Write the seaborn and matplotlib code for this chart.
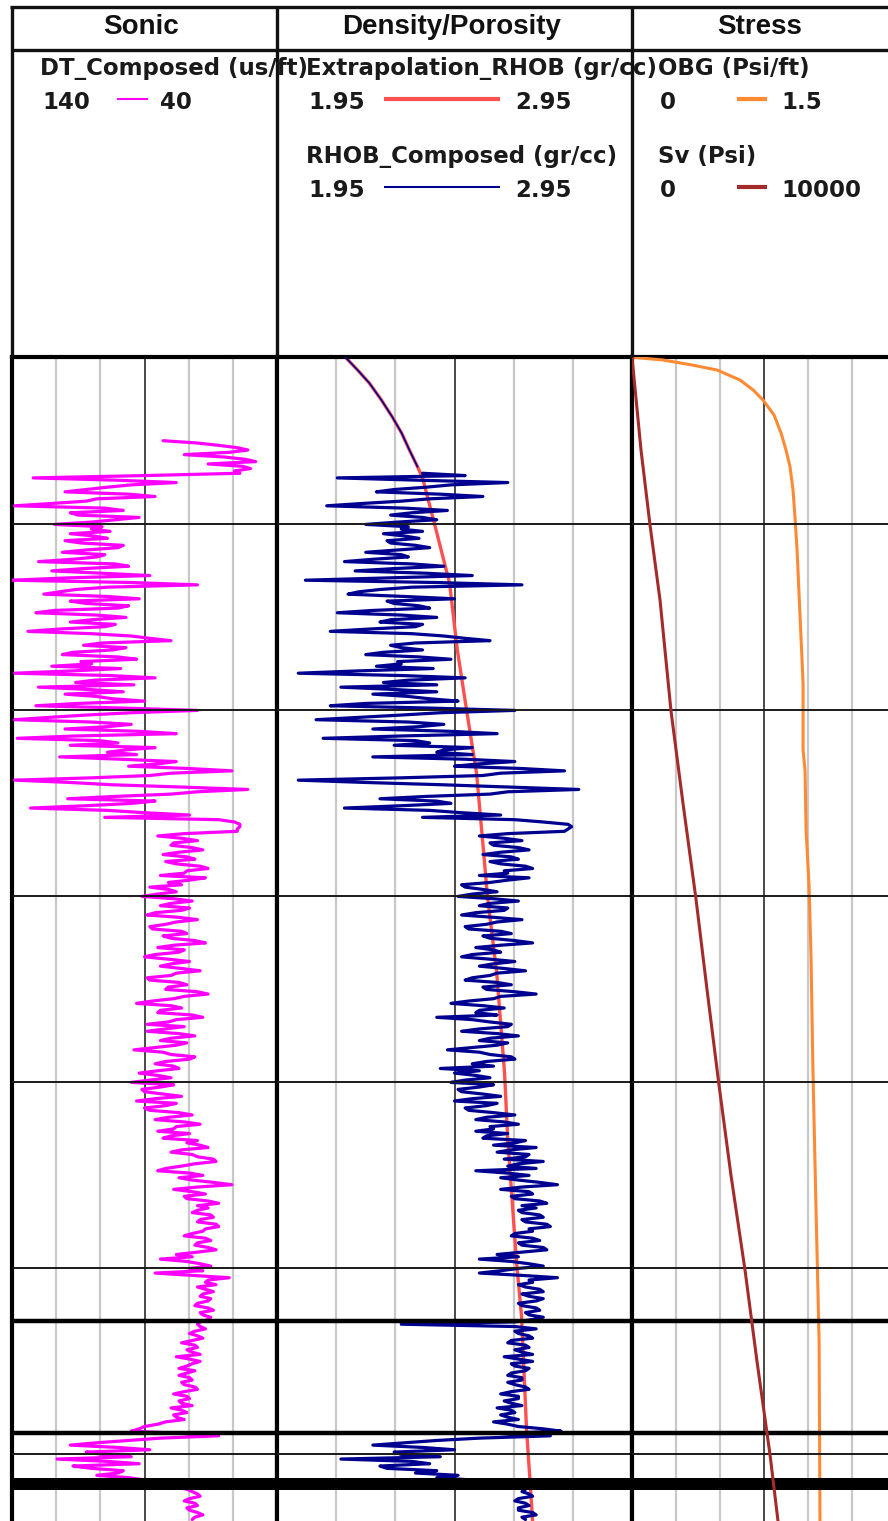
import numpy as np
import pandas as pd
import matplotlib
matplotlib.use('Agg')
import matplotlib.pyplot as plt
import seaborn as sns

sns.set_style('white')
plt.rcParams['font.family'] = ['DejaVu Sans']

#################################
# LOG DATA
#################################

depth_top, depth_base = 100, 6358          # ft, top/base of the displayed interval

# DT_Composed (us/ft), sampled every 12.5 ft from 550 ft
dt_start, dt_step = 550, 12.5
dt_composed = [
    83, 70, 62, 55, 51, 58, 75, 60, 52, 48, 66, 53, 50, 56, 54, 90,
    132, 100, 78, 95, 104, 112, 120, 96, 86, 108, 112, 125, 139, 105, 98, 118, 115, 92, 101, 110, 124, 106,
    110, 103, 118, 109, 104, 120, 114, 98, 100, 112, 121, 105, 108, 117, 130, 101, 96, 113, 125, 106, 88, 119,
    140, 95, 70, 104, 116, 122,
    128, 104, 92, 118, 112, 96, 100, 124, 131, 108, 97, 110, 118, 101, 105, 122, 134, 110, 95, 88,
    80, 106, 113, 97, 102, 117, 121, 100, 93, 114, 110, 125, 99, 117, 139, 103, 86, 109, 116, 94,
    130, 111, 98, 120, 108, 102, 90, 115,
    131, 98, 70, 95, 112, 126, 139, 110, 95, 104, 120, 92, 78, 116, 138, 107, 100, 118, 86, 97,
    104, 93, 122, 99, 78, 85, 96, 73, 57, 80, 88, 110,
    139, 118, 102, 75, 51, 70,
    80, 101, 119, 86, 95, 112, 133, 104, 90, 73, 105, 62,
    56, 54, 54, 55, 55, 75,
    85, 76, 70, 79, 80, 72, 68, 77, 83, 74, 71, 82, 78, 69, 66, 74, 75, 84, 67, 73, 81, 76,
    88, 81, 78, 85, 91, 79, 72, 80, 84, 73, 76, 86, 89, 77, 70, 78, 82, 88, 87, 76,
    74, 83, 80, 71, 67, 79, 85, 75, 77, 86, 90, 81, 73, 80, 84, 76, 69, 78, 80, 89,
    88, 77, 74, 81, 82, 70, 66, 75, 79, 87, 93, 80, 76, 84, 85, 72, 68, 78, 81, 89,
    75, 82, 89, 77, 71, 80, 84, 74, 78, 86, 94, 83, 80, 71, 73, 82, 86, 79, 77, 85,
    92, 85, 80, 88, 95, 79, 84, 91, 90, 83, 76, 86, 93, 78, 82, 90, 88, 77, 72, 81,
    86, 75, 69, 78, 79, 85, 73, 80, 83, 70,
    74, 69, 66, 76, 80, 72, 70, 64, 63, 71, 76, 82, 85, 73, 68, 77, 72, 64, 57, 70,
    79, 72, 67, 75, 74, 66, 62, 70,
    66, 70, 72, 65, 64, 69, 70, 63, 62, 67, 68, 72, 75, 67, 65, 70, 71, 66, 63, 70,
    78, 72, 84, 74, 69, 65, 73, 68,
    86, 72, 58, 66, 67, 63, 70, 67, 64, 68, 69, 65, 66, 70, 71, 66, 64, 69, 68, 65, 66, 69,
    70, 69, 67, 71, 73, 70, 68, 72, 76, 71, 70, 74, 72, 69, 78, 73, 69, 72, 74, 77,
    71, 74, 77, 73, 72, 76, 75, 71, 70, 75, 79, 74, 73, 77, 76, 72, 80, 76, 74, 79,
    78, 75, 82, 85,
    90, 92, 95, 75,
    62, 84, 96, 108, 118, 100, 88, 112, 106, 95, 123, 104, 92, 117, 110, 98, 100, 108,
    96, 90, 85, 80, 78, 74,
    72, 70, 69, 73, 75, 71, 70, 74, 73, 70, 68, 71, 72,
]

# RHOB_Composed measured part (gr/cc), every 12.5 ft from 725 ft
rhob_start, rhob_step = 725, 12.5
rhob_composed = [
    2.36, 2.48, 2.12, 2.35, 2.60, 2.44, 2.37, 2.28, 2.23, 2.41, 2.53, 2.38, 2.30, 2.19, 2.09, 2.31,
    2.43, 2.33, 2.27, 2.36, 2.40, 2.29, 2.20, 2.32,
    2.30, 2.36, 2.25, 2.31, 2.35, 2.26, 2.27, 2.34, 2.38, 2.29, 2.20, 2.30, 2.32, 2.22, 2.14, 2.33,
    2.42, 2.28, 2.17, 2.37, 2.50, 2.26, 2.03, 2.40, 2.64, 2.33, 2.24, 2.18,
    2.15, 2.31, 2.45, 2.26, 2.28, 2.35, 2.38, 2.22, 2.12, 2.30, 2.40, 2.27, 2.24, 2.36, 2.34, 2.21,
    2.10, 2.33, 2.42, 2.48, 2.55, 2.34, 2.27, 2.30, 2.36, 2.25, 2.20, 2.35, 2.44, 2.29, 2.30, 2.23,
    2.39, 2.18, 2.01, 2.30, 2.48, 2.32, 2.25, 2.40, 2.13, 2.28, 2.40, 2.22, 2.32, 2.38, 2.46, 2.20,
    2.10, 2.38, 2.62, 2.41, 2.30, 2.18, 2.06, 2.32, 2.42, 2.35, 2.22, 2.44, 2.57, 2.30, 2.08, 2.34,
    2.38, 2.28, 2.50, 2.42,
    2.40, 2.50, 2.22, 2.48, 2.62, 2.52, 2.45, 2.64, 2.76, 2.58, 2.53, 2.30,
    2.01, 2.20, 2.42, 2.61, 2.80, 2.60,
    2.55, 2.37, 2.24, 2.40, 2.44, 2.30, 2.14, 2.38, 2.47, 2.58, 2.36, 2.62,
    2.70, 2.77, 2.78, 2.77, 2.76, 2.60,
    2.52, 2.59, 2.64, 2.55, 2.56, 2.63, 2.66, 2.58, 2.53, 2.61, 2.63, 2.55, 2.58, 2.65, 2.67, 2.59,
    2.60, 2.52, 2.66, 2.60, 2.55, 2.47,
    2.48, 2.53, 2.57, 2.50, 2.46, 2.56, 2.63, 2.55, 2.52, 2.60, 2.59, 2.51, 2.47, 2.56, 2.64, 2.57,
    2.54, 2.48, 2.49, 2.58, 2.61, 2.53, 2.55, 2.62, 2.67, 2.58, 2.51, 2.56, 2.58, 2.50, 2.47, 2.55,
    2.62, 2.56, 2.52, 2.59, 2.65, 2.57, 2.55, 2.50, 2.48, 2.57, 2.61, 2.53, 2.54, 2.62, 2.68, 2.58,
    2.56, 2.49, 2.44, 2.53, 2.59, 2.52, 2.51, 2.57, 2.40, 2.50, 2.55, 2.61, 2.60, 2.52, 2.47, 2.57,
    2.63, 2.55, 2.52, 2.60, 2.57, 2.50, 2.43, 2.52, 2.55, 2.61, 2.62, 2.54, 2.50, 2.56, 2.41, 2.52,
    2.45, 2.51, 2.55, 2.48, 2.44, 2.56, 2.52, 2.46, 2.47, 2.53, 2.58, 2.50, 2.45, 2.57, 2.54, 2.48,
    2.49, 2.56, 2.62, 2.54, 2.51, 2.59, 2.63, 2.55, 2.56, 2.51, 2.60, 2.54, 2.53, 2.65,
    2.62, 2.56, 2.68, 2.61, 2.57, 2.66, 2.65, 2.59, 2.70, 2.63, 2.60, 2.68, 2.51, 2.60, 2.66, 2.58,
    2.63, 2.69, 2.74, 2.64, 2.58, 2.66, 2.67, 2.61, 2.62, 2.69, 2.71, 2.64,
    2.68, 2.63, 2.64, 2.69, 2.70, 2.64, 2.65, 2.71, 2.72, 2.66, 2.67, 2.62, 2.61, 2.67, 2.69, 2.63,
    2.64, 2.70, 2.71, 2.64, 2.57, 2.63, 2.52, 2.61, 2.66, 2.70, 2.63, 2.58,
    2.52, 2.64, 2.74, 2.66, 2.67, 2.63, 2.65, 2.69, 2.70, 2.64, 2.66, 2.70, 2.68, 2.63, 2.64, 2.68,
    2.69, 2.65, 2.66, 2.70, 2.67, 2.62,
    2.30, 2.62, 2.68, 2.62, 2.63, 2.66, 2.67, 2.61, 2.60, 2.65, 2.66, 2.62, 2.64, 2.67, 2.59, 2.63,
    2.67, 2.61, 2.62, 2.66, 2.65, 2.61, 2.60, 2.64, 2.64, 2.60, 2.62, 2.65, 2.66, 2.61, 2.58, 2.63,
    2.63, 2.59, 2.61, 2.64, 2.57, 2.61, 2.62, 2.58, 2.60, 2.63, 2.56, 2.60,
    2.63, 2.70, 2.75, 2.58,
    2.72, 2.52, 2.40, 2.31, 2.22, 2.36, 2.45, 2.28, 2.30, 2.41, 2.13, 2.33, 2.38, 2.24, 2.26, 2.40,
    2.34, 2.46,
    2.40, 2.50, 2.55, 2.60, 2.62, 2.65,
    2.64, 2.66, 2.67, 2.63, 2.62, 2.65, 2.66, 2.63, 2.63, 2.67, 2.68, 2.64, 2.65,
]

# Extrapolation_RHOB trend (gr/cc)
extrap_depth = [100, 170, 240, 331, 423, 509, 600, 691, 750, 992, 1315, 1675, 2035,
                2336, 2697, 3003, 3412, 3949, 4309, 4971, 5261, 5868, 6121, 6358]
extrap_rhob = [2.142, 2.177, 2.210, 2.244, 2.275, 2.301, 2.323, 2.346, 2.360, 2.393, 2.436, 2.458, 2.487,
               2.512, 2.529, 2.543, 2.569, 2.591, 2.600, 2.625, 2.639, 2.653, 2.662, 2.670]

# Overburden gradient (psi/ft)
obg_depth = [100, 105, 116, 143, 170, 224, 277, 331, 412, 509, 600, 691, 815, 960,
             1138, 1498, 1853, 2213, 2320, 2643, 2939, 3315, 3933, 4659, 5385, 6358]
obg = [0.0, 0.045, 0.176, 0.341, 0.483, 0.614, 0.688, 0.744, 0.807, 0.847, 0.875, 0.898, 0.915, 0.926,
       0.938, 0.955, 0.972, 0.972, 0.983, 0.989, 1.006, 1.017, 1.028, 1.045, 1.063, 1.068]

# Vertical stress (psi)
sv_depth = [100, 600, 1003, 1406, 2003, 2500, 3014, 3500, 4014, 4500, 5008, 5500, 6000, 6358]
sv = [0, 341, 682, 1061, 1477, 1932, 2424, 2841, 3295, 3750, 4280, 4735, 5227, 5530]

grid_depths = [1000, 2000, 3000, 4000, 5000, 6000]
marker_depths = [5283, 5884]
marker_band = (6128, 6192)

#################################
# DATAFRAMES
#################################
dt_df = pd.DataFrame({'DEPTH': dt_start + dt_step * np.arange(len(dt_composed)),
                      'DT': dt_composed})
extrap_df = pd.DataFrame({'DEPTH': extrap_depth, 'RHOB': extrap_rhob})
meas_df = pd.DataFrame({'DEPTH': rhob_start + rhob_step * np.arange(len(rhob_composed)),
                        'RHOB': rhob_composed})
# composed = extrapolated trend above the measured interval + measured below
rhob_top = extrap_df[extrap_df['DEPTH'] <= rhob_start]
obg_df = pd.DataFrame({'DEPTH': obg_depth, 'OBG': obg})
sv_df = pd.DataFrame({'DEPTH': sv_depth, 'SV': sv})

#################################
# FIGURE LAYOUT (pixel based)
#################################
W, H = 888, 1521
fig = plt.figure(figsize=(W / 100, H / 100), dpi=100)
fig.patch.set_facecolor('white')


def px_axes(x0, x1, y0, y1, **kw):
    return fig.add_axes([x0 / W, 1 - y1 / H, (x1 - x0) / W, (y1 - y0) / H], **kw)


def style_track(ax, lo, hi):
    ax.set_xlim(lo, hi)
    ax.set_ylim(depth_base, depth_top)
    ax.set_xticks([])
    ax.set_yticks([])
    ax.set_xlabel('')
    ax.set_ylabel('')
    for side in ['top', 'left', 'right']:
        ax.spines[side].set_linewidth(3)
        ax.spines[side].set_color('black')
    ax.spines['bottom'].set_visible(False)
    for f in [1 / 6, 2 / 6, 4 / 6, 5 / 6]:
        ax.axvline(lo + f * (hi - lo), color='#c8c8c8', lw=1.6, zorder=0)
    ax.axvline(lo + 0.5 * (hi - lo), color='#2a2a2a', lw=1.2, zorder=0)
    for d in grid_depths:
        ax.axhline(d, color='#1a1a1a', lw=1.4, zorder=6)
    for d in marker_depths:
        ax.axhline(d, color='black', lw=3.2, zorder=6)
    ax.axhspan(marker_band[0], marker_band[1], color='black', lw=0, zorder=6)


ax1 = px_axes(12, 277, 357, H)
ax2 = px_axes(277, 632, 357, H)
ax3 = px_axes(632, 896, 357, H)

# Sonic track
sns.lineplot(data=dt_df, x='DT', y='DEPTH', orient='y', sort=False, estimator=None,
             color='#ff00ff', lw=2.3, ax=ax1, zorder=3)
style_track(ax1, 140, 40)

# Density track
sns.lineplot(data=extrap_df, x='RHOB', y='DEPTH', orient='y', sort=False, estimator=None,
             color='#ff5050', lw=2.4, ax=ax2, zorder=2)
sns.lineplot(data=rhob_top, x='RHOB', y='DEPTH', orient='y', sort=False, estimator=None,
             color='#000090', lw=1.2, ax=ax2, zorder=3)
sns.lineplot(data=meas_df, x='RHOB', y='DEPTH', orient='y', sort=False, estimator=None,
             color='#000090', lw=2.3, ax=ax2, zorder=3)
style_track(ax2, 1.95, 2.95)

# Stress track
sns.lineplot(data=obg_df, x='OBG', y='DEPTH', orient='y', sort=False, estimator=None,
             color='#ff8a33', lw=2.2, ax=ax3, zorder=3)
style_track(ax3, 0, 1.5)
ax3b = ax3.twiny()
sns.lineplot(data=sv_df, x='SV', y='DEPTH', orient='y', sort=False, estimator=None,
             color='#a52a2a', lw=2.2, ax=ax3b, zorder=3)
ax3b.set_xlim(0, 10000)
ax3b.set_ylim(depth_base, depth_top)
ax3b.set_xticks([])
ax3b.set_xlabel('')
ax3b.set_ylabel('')
for s in ax3b.spines.values():
    s.set_visible(False)

#################################
# HEADER
#################################
hdr = fig.add_axes([0, 0, 1, 1], zorder=10)
hdr.set_xlim(0, W)
hdr.set_ylim(H, 0)
hdr.axis('off')

frame = dict(color='#111111', lw=2.4, solid_capstyle='butt')
hdr.plot([10, W], [7, 7], **frame)
hdr.plot([12, 12], [7, 357], **frame)
hdr.plot([12, W], [50, 50], **frame)
hdr.plot([277, 277], [7, 357], **frame)
hdr.plot([632, 632], [7, 357], **frame)

title_font = dict(fontsize=20, fontweight='bold', family=['Liberation Sans', 'DejaVu Sans'],
                  ha='center', va='center', color='#111111')
hdr.text(141, 27, 'Sonic', **title_font)
hdr.text(452, 27, 'Density/Porosity', **title_font)
hdr.text(760, 27, 'Stress', **title_font)

curve_font = dict(fontsize=16.5, fontweight='bold', family=['DejaVu Sans'],
                  ha='left', va='baseline', color='#1a1a1a')


def header_curve(x_name, y_name, name, lo, hi, x_hi, line_x, color, lw):
    hdr.text(x_name, y_name, name, **curve_font)
    hdr.text(x_name + 2, y_name + 34, lo, **curve_font)
    hdr.text(x_hi, y_name + 34, hi, **curve_font)
    hdr.plot(line_x, [y_name + 24, y_name + 24], color=color, lw=lw, solid_capstyle='butt')


header_curve(40, 75, 'DT_Composed (us/ft)', '140', '40', 160, [117, 148], '#ff00ff', 1.5)
header_curve(306, 75, 'Extrapolation_RHOB (gr/cc)', '1.95', '2.95', 515, [384, 500], '#ff5050', 3)
header_curve(306, 163, 'RHOB_Composed (gr/cc)', '1.95', '2.95', 515, [384, 500], '#000090', 1.5)
header_curve(658, 75, 'OBG (Psi/ft)', '0', '1.5', 781, [737, 767], '#ff8a33', 3)
header_curve(658, 163, 'Sv (Psi)', '0', '10000', 781, [737, 767], '#a52a2a', 3)

fig.savefig('out.png', dpi=100, facecolor='white')
